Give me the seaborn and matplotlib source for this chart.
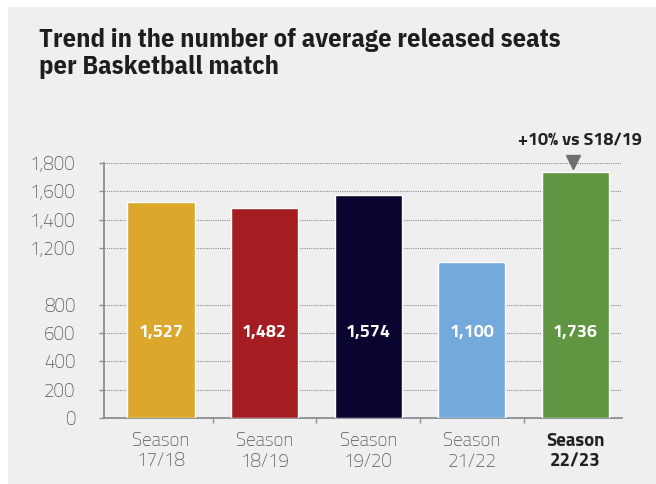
import matplotlib
matplotlib.use("Agg")
import matplotlib.pyplot as plt
from matplotlib.patches import Rectangle
import seaborn as sns
import pandas as pd

# Data
seasons = ["Season\n17/18", "Season\n18/19", "Season\n19/20", "Season\n21/22", "Season\n22/23"]
avg_seats = [1527, 1482, 1574, 1100, 1736]
bar_colors = ["#DCA72D", "#A31D22", "#0A0530", "#74A9DB", "#609641"]
ytick_values = [0, 200, 400, 600, 800, 1200, 1400, 1600, 1800]
ytick_labels = ["0", "200", "400", "600", "800", "1,200", "1,400", "1,600", "1,800"]
callout_text = "+10% vs S18/19"
title = "Trend in the number of average released seats\nper Basketball match"

df = pd.DataFrame({"season": seasons, "seats": avg_seats})

sns.set_theme(style="white")
BODY_FONT = ["Titillium Web", "Lato", "DejaVu Sans"]
TITLE_FONT = ["IBM Plex Sans Condensed", "Fira Sans Condensed", "Asap Condensed", "DejaVu Sans"]
plt.rcParams["font.family"] = BODY_FONT

BG = "#EFEFEF"
AXIS_GREY = "#8A8F94"
LABEL_GREY = "#555555"

fig = plt.figure(figsize=(6.56, 4.84), dpi=100, facecolor="white")
fig.patches.append(Rectangle((8 / 656, 0), 1, 1 - 7 / 484, transform=fig.transFigure,
                             facecolor=BG, edgecolor="none", zorder=-10))

ax = fig.add_axes([104 / 656, 66 / 484, 518 / 656, 255 / 484])
ax.set_facecolor(BG)

sns.barplot(data=df, x="season", y="seats", hue="season", palette=bar_colors,
            legend=False, width=0.65, saturation=1, ax=ax, zorder=3)

ax.set_xlim(-0.55, 4.45)
ax.set_ylim(0, 1800)
ax.set_xlabel("")
ax.set_ylabel("")

# y axis: dotted gridlines, ticks pointing outward
ax.set_yticks(ytick_values)
ax.set_yticklabels(ytick_labels, fontsize=13.5, color=LABEL_GREY, fontweight="light")
ax.yaxis.grid(True, linestyle=(0, (1, 1)), color="#8E8E8E", linewidth=0.8, zorder=0)
ax.tick_params(axis="y", which="major", direction="out", length=3.6, width=1,
               color=AXIS_GREY, left=True, pad=17)

# x axis: labels centred, small ticks at the boundaries between seasons
ax.set_xticks(range(len(seasons)))
ax.set_xticklabels(seasons, fontsize=13.5, color=LABEL_GREY, fontweight="light",
                   linespacing=1.12)
ax.tick_params(axis="x", which="major", length=0, pad=10)
ax.set_xticks([0.5, 1.5, 2.5, 3.5], minor=True)
ax.tick_params(axis="x", which="minor", direction="out", length=3.6, width=1,
               color=AXIS_GREY, bottom=True)
last = ax.get_xticklabels()[-1]
last.set_fontweight("bold")
last.set_color("#222222")

for side in ("top", "right"):
    ax.spines[side].set_visible(False)
for side in ("left", "bottom"):
    ax.spines[side].set_color(AXIS_GREY)
    ax.spines[side].set_linewidth(1.3)

# Values written inside the bars
for i, v in enumerate(avg_seats):
    ax.text(i, 600, f"{v:,}", ha="center", va="center", color="white",
            fontsize=13, fontweight="bold", zorder=5)

# Callout above the latest season
last_i = len(avg_seats) - 1
ax.plot(last_i - 0.02, avg_seats[last_i] + 70, marker="v", markersize=10, color="#6B6F73",
        clip_on=False, zorder=5)
ax.text(last_i + 0.04, avg_seats[last_i] + 160, callout_text, ha="center", va="bottom",
        fontsize=13, fontweight="bold", color="#222222", clip_on=False)

fig.text(39 / 656, 1 - 28 / 484, title, ha="left", va="top", fontsize=19,
         fontweight="bold", color="#1E1E1E", linespacing=1.15, family=TITLE_FONT)

fig.savefig("out.png", dpi=100, facecolor="white")
